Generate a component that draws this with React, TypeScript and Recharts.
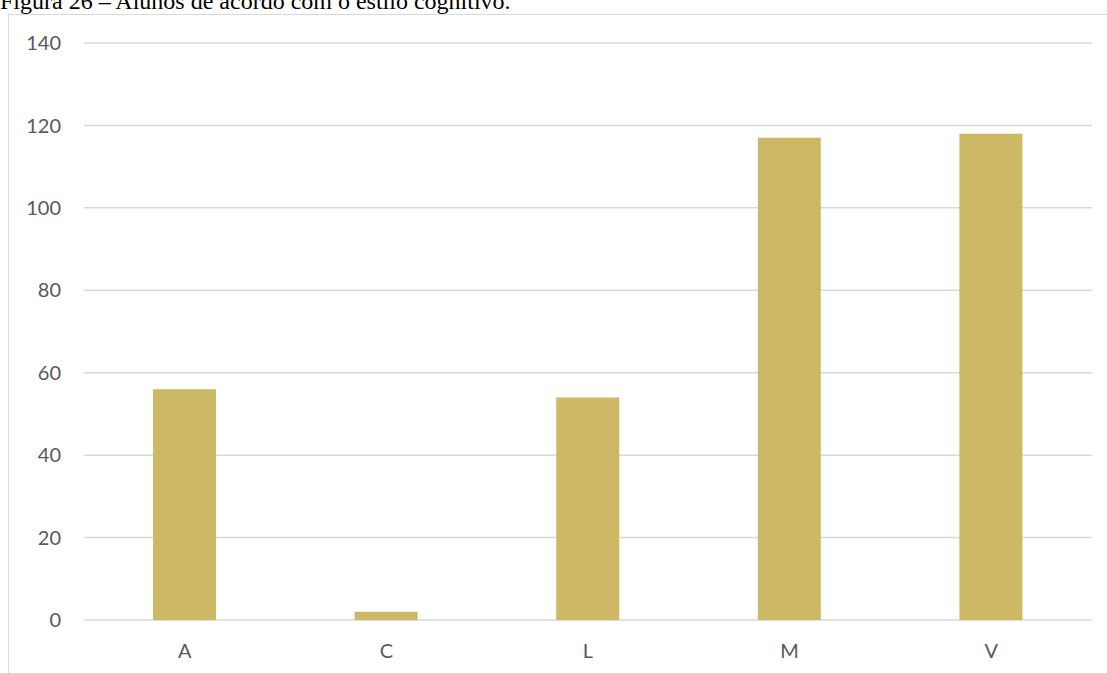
import React from 'react';
import { BarChart, Bar, XAxis, YAxis, CartesianGrid } from 'recharts';

const categories = ['A', 'C', 'L', 'M', 'V'];
const alunos = [56, 2, 54, 117, 118];
const yTicks = [0, 20, 40, 60, 80, 100, 120, 140];

const data = categories.map((estilo, i) => ({ estilo, alunos: alunos[i] }));

const tickStyle = { fill: '#595959', fontSize: 20, fontFamily: 'Lato, "Open Sans", sans-serif' };

export default function App() {
  return (
    <div style={{ position: 'absolute', left: 0, top: 0, width: 1107, height: 673, overflow: 'hidden', background: '#fff' }}>
      {/* chart frame */}
      <div
        style={{
          position: 'absolute',
          left: 8,
          top: 14,
          width: 1200,
          height: 800,
          borderLeft: '1px solid #d9d9d9',
          borderTop: '1px solid #d9d9d9',
        }}
      />
      <BarChart
        width={1107}
        height={673}
        data={data}
        margin={{ top: 43, right: 15, bottom: 0, left: 0 }}
        barSize={63}
        style={{ position: 'absolute', left: 0, top: 0 }}
      >
        <CartesianGrid vertical={false} stroke="#d9d9d9" strokeWidth={1.5} />
        <XAxis
          dataKey="estilo"
          height={53}
          axisLine={false}
          tickLine={false}
          tickSize={0}
          tickMargin={24}
          tick={tickStyle}
        />
        <YAxis
          width={84}
          domain={[0, 140]}
          ticks={yTicks}
          axisLine={false}
          tickLine={false}
          tickSize={0}
          tickMargin={23}
          tick={tickStyle}
        />
        <Bar dataKey="alunos" fill="#cdb866" isAnimationActive={false} />
      </BarChart>
      <svg width={1107} height={30} style={{ position: 'absolute', left: 0, top: 0 }}>
        <text x={0} y={9} fontFamily='"Liberation Serif", "Times New Roman", serif' fontSize={24} fill="#000">
          Figura 26 – Alunos de acordo com o estilo cognitivo.
        </text>
      </svg>
    </div>
  );
}
